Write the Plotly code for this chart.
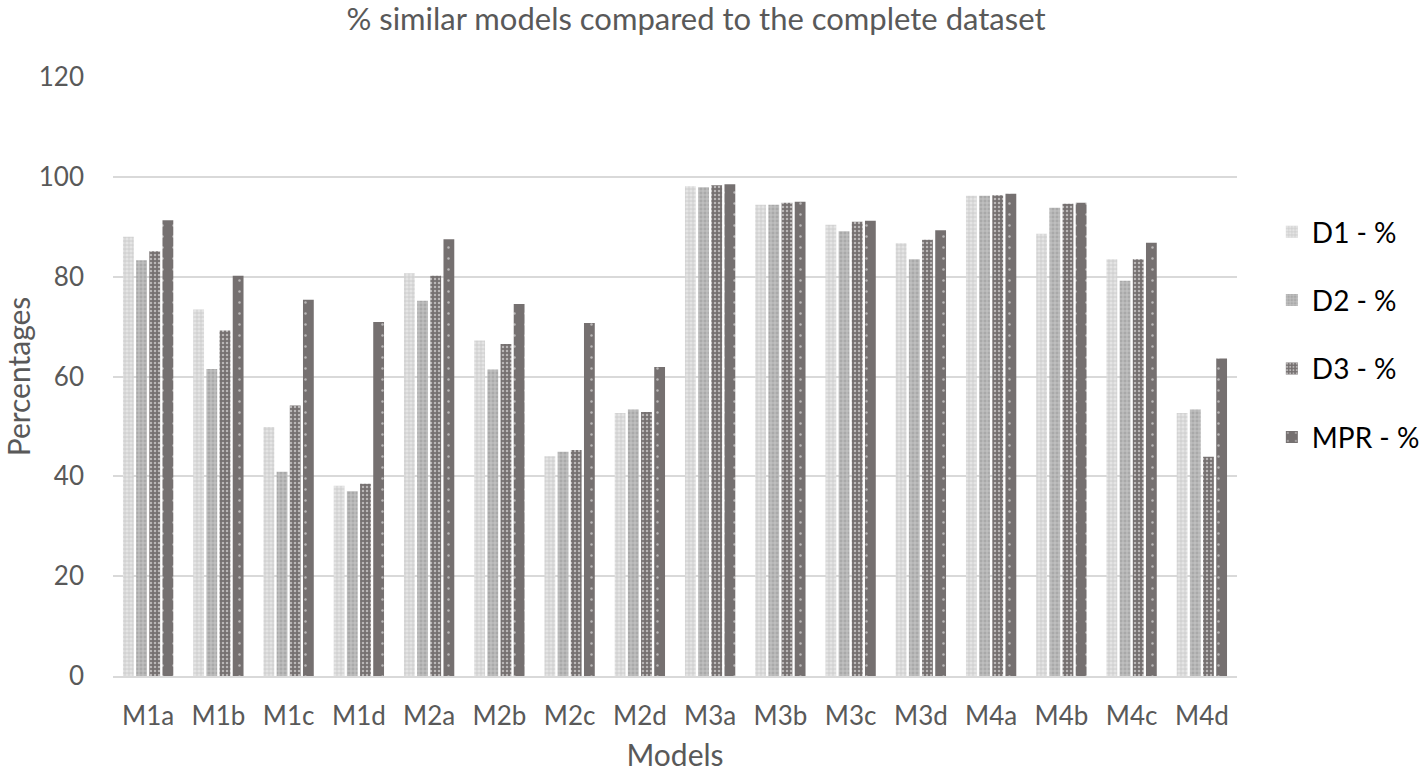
import plotly.graph_objects as go

models = ["M1a", "M1b", "M1c", "M1d", "M2a", "M2b", "M2c", "M2d",
          "M3a", "M3b", "M3c", "M3d", "M4a", "M4b", "M4c", "M4d"]
d1 = [88.0, 73.4, 49.9, 38.1, 80.7, 67.2, 44.0, 52.7,
      98.1, 94.4, 90.4, 86.7, 96.2, 88.6, 83.5, 52.7]
d2 = [83.3, 61.5, 40.9, 37.0, 75.2, 61.4, 44.9, 53.4,
      97.9, 94.4, 89.1, 83.5, 96.2, 93.8, 79.2, 53.4]
d3 = [85.1, 69.2, 54.2, 38.5, 80.2, 66.5, 45.3, 52.9,
      98.3, 94.8, 91.0, 87.4, 96.3, 94.6, 83.5, 43.9]
mpr = [91.3, 80.2, 75.4, 70.9, 87.5, 74.5, 70.7, 61.9,
       98.5, 95.0, 91.2, 89.3, 96.6, 94.8, 86.8, 63.6]

series = [
    ("D1 - %", d1, dict(shape=".", bgcolor="#d2d2d2", fgcolor="#f6f6f6", size=4, solidity=0.5, fillmode="overlay")),
    ("D2 - %", d2, dict(shape="+", bgcolor="#a9a9a9", fgcolor="#ececec", size=4, solidity=0.35, fillmode="overlay")),
    ("D3 - %", d3, dict(shape=".", bgcolor="#757070", fgcolor="#ffffff", size=4, solidity=0.3, fillmode="overlay")),
    ("MPR - %", mpr, dict(shape=".", bgcolor="#757070", fgcolor="#ffffff", size=11, solidity=0.04, fillmode="overlay")),
]

fig = go.Figure()
for name, vals, pat in series:
    fig.add_trace(go.Bar(
        x=models, y=vals, name=name, legendgroup=name,
        marker=dict(color=pat["bgcolor"], pattern=pat, line=dict(width=0)),
    ))

W, H = 1424, 772
font_family = "Lato, 'Open Sans', sans-serif"
fig.update_layout(
    width=W, height=H,
    paper_bgcolor="white", plot_bgcolor="white",
    margin=dict(l=113, r=187, t=77, b=96, autoexpand=False),
    barmode="group", bargap=0.25, bargroupgap=0.18,
    title=dict(text="% similar models compared to the complete dataset",
               x=696 / W, xanchor="center", xref="container",
               y=1 - 19 / H, yanchor="middle", yref="container",
               font=dict(family=font_family, size=31, color="#595959")),
    font=dict(family=font_family, color="#595959"),
    xaxis=dict(title=dict(text="Models", font=dict(size=30, color="#595959"), standoff=19),
               tickfont=dict(size=26, color="#595959"), ticklabelstandoff=16,
               showline=True, linecolor="#d9d9d9", linewidth=1.5, ticks="",
               automargin=False),
    yaxis=dict(title=dict(text="Percentages", font=dict(size=30, color="#595959"), standoff=0),
               range=[0, 120], dtick=20, tickfont=dict(size=26, color="#595959"),
               showgrid=True, gridcolor="#d9d9d9", gridwidth=1.5, zeroline=False,
               ticks="", ticklabelstandoff=28, automargin=False),
    legend=dict(x=1.031, y=0.783, xanchor="left", yanchor="top",
                font=dict(size=28, color="#000000"), tracegroupgap=29,
                itemwidth=30, bgcolor="rgba(0,0,0,0)"),
)

fig.write_html("out.html", config={"displayModeBar": False},
               post_script="document.body.style.margin='0';")
